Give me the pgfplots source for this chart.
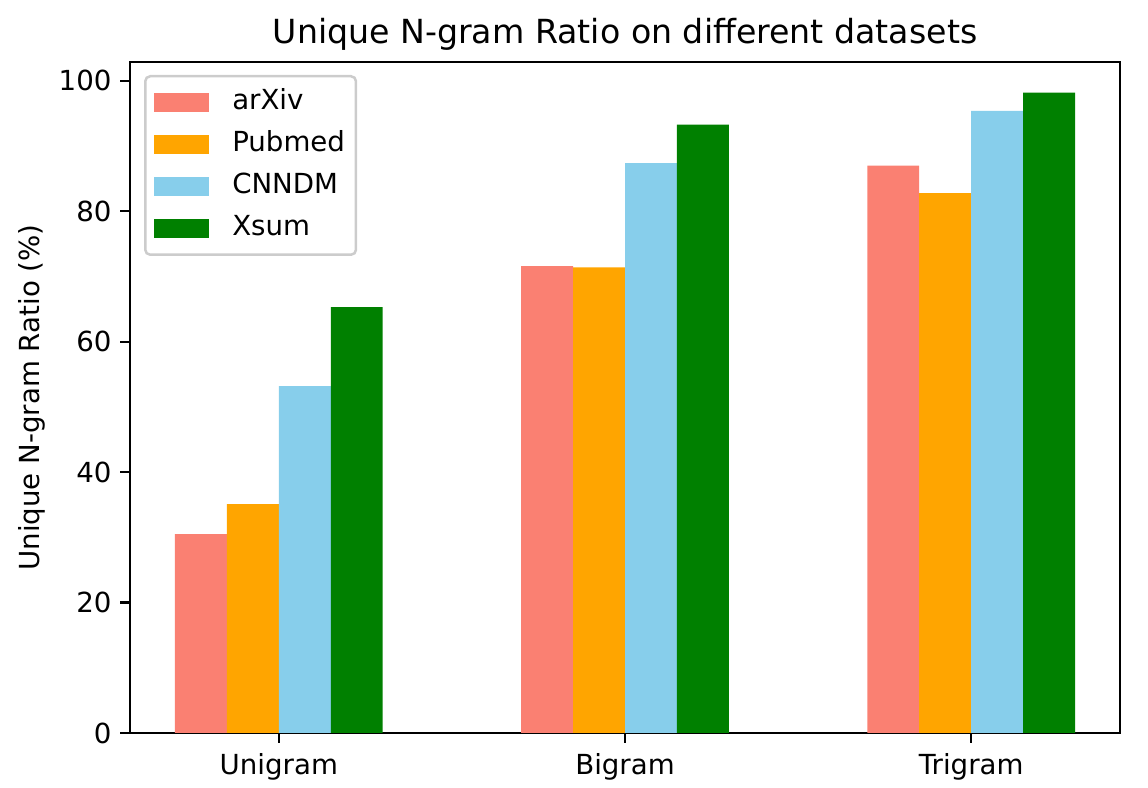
\documentclass[border=0pt]{standalone}
\usepackage{fontspec}
\setmainfont{DejaVu Sans}
\usepackage{pgfplots}
\pgfplotsset{compat=1.18}
\definecolor{csalmon}{HTML}{FA8072}
\definecolor{corange}{HTML}{FFA500}
\definecolor{csky}{HTML}{87CEEB}
\definecolor{cgreen}{HTML}{008000}
\begin{document}
\begin{tikzpicture}
\useasboundingbox (-52bp,-22bp) rectangle (407.2bp,293.2bp);
\begin{axis}[
  at={(0,0)}, anchor=south west,
  scale only axis,
  width=396bp, height=268.4bp,
  xmin=-0.43, xmax=2.43, ymin=0, ymax=102.9,
  ybar, bar width=0.15,
  xtick={0,1,2}, xticklabels={Unigram,Bigram,Trigram},
  ytick={0,20,40,60,80,100},
  xtick pos=bottom, ytick pos=left,
  tick align=outside,
  major tick length=3.9bp,
  axis line style={line width=0.89bp},
  every tick/.style={line width=0.89bp, black},
  /pgf/number format/assume math mode=true,
  ticklabel style={font=\fontsize{11.1}{13}\selectfont},
  xticklabel style={yshift=-0.6bp},
  title={Unique N-gram Ratio on different datasets},
  title style={font=\fontsize{13.33}{15}\selectfont, at={(axis description cs:0.5,1)}, anchor=center, yshift=5.2bp},
  ylabel={Unique N-gram Ratio (\%)},
  ylabel style={font=\fontsize{11.1}{13}\selectfont, at={(axis description cs:-0.099,0.5)}, anchor=center},
  legend cell align=left,
  legend style={at={(axis description cs:0.01414,0.98063)}, anchor=north west,
    draw=black!20, line width=1bp, rounded corners=2bp, fill=white,
    font=\fontsize{11.1}{13}\selectfont,
    inner xsep=3.4bp, inner ysep=4.2bp, row sep=4.2bp,
    nodes={inner sep=1bp, text height=8.2bp, text depth=2.4bp}},
  legend image code/.code={\fill[#1, draw=none, sharp corners] (0bp,-3.8bp) rectangle (22bp,3.8bp);},
  /tikz/every odd column/.append style={column sep=8.4bp},
  /tikz/every even column/.append style={column sep=3.4bp},
]
\addplot[fill=csalmon, draw=none, bar shift=-0.225] coordinates {(0,30.5) (1,71.6) (2,87.0)};
\addplot[fill=corange, draw=none, bar shift=-0.075] coordinates {(0,35.1) (1,71.4) (2,82.8)};
\addplot[fill=csky, draw=none, bar shift=0.075] coordinates {(0,53.2) (1,87.4) (2,95.4)};
\addplot[fill=cgreen, draw=none, bar shift=0.225] coordinates {(0,65.3) (1,93.3) (2,98.2)};
\legend{arXiv,Pubmed,CNNDM,Xsum}
\end{axis}
\end{tikzpicture}
\end{document}
